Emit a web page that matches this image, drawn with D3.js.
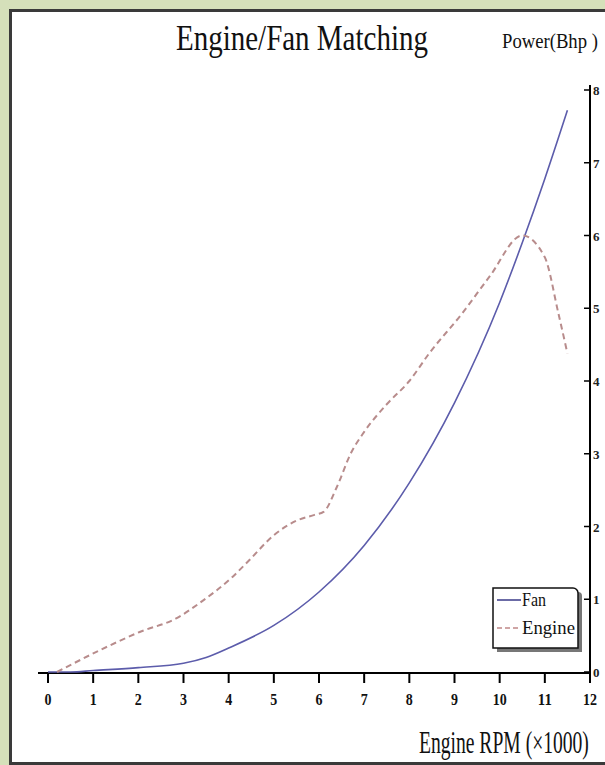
<!DOCTYPE html>
<html><head><meta charset="utf-8">
<script src="https://cdn.jsdelivr.net/npm/d3@7"></script>
<style>html,body{margin:0;padding:0;background:#d5e0ba;overflow:hidden}</style>
</head><body>
<svg id="c" width="605" height="765"></svg>
<script>
// ---- data ----
const xTicks = [0,1,2,3,4,5,6,7,8,9,10,11,12];
const yTicks = [0,1,2,3,4,5,6,7,8];
const fanRpm   = [0, 0.5, 1, 2, 3, 3.5, 4, 5, 6, 7, 8, 9, 10, 10.5, 11, 11.5];
const fanPower = [0, 0, 0.02, 0.06, 0.12, 0.2, 0.33, 0.64, 1.1, 1.74, 2.6, 3.7, 5.08, 5.9, 6.78, 7.72];
const engineRpm   = [0.2, 1.15, 2.03, 2.85, 3.36, 4.09, 4.46, 5.0, 5.5, 5.9, 6.1, 6.4, 6.7, 7.0, 7.5, 8.0, 8.44, 9.17, 9.77, 10.5, 11.0, 11.3, 11.5];
const enginePower = [0, 0.30, 0.55, 0.74, 0.95, 1.31, 1.54, 1.88, 2.08, 2.16, 2.2, 2.55, 3.0, 3.3, 3.68, 4.0, 4.38, 4.93, 5.43, 6.0, 5.7, 4.93, 4.38];
const seriesNames = ["Fan", "Engine"];
const titleText = "Engine/Fan Matching";
const yTitle = "Power(Bhp )";
const xTitle = "Engine RPM (\u00d71000)";

const svg = d3.select("#c");
const serif = "'Liberation Serif','DejaVu Serif',serif";

// condensed text helper: real text, squeezed horizontally to a target width
function condensed(parent, str, x0, y0, size, width, opts={}) {
  const g = parent.append("g");
  const t = g.append("text").attr("x",0).attr("y",0).attr("font-family",serif)
    .attr("font-size",size).attr("fill",opts.fill||"#111")
    .attr("font-weight",opts.weight||"normal").text(str);
  const len = t.node().getComputedTextLength() || width;
  const sx = width/len;
  const anchorShift = opts.anchor==="middle" ? -width/2 : 0;
  g.attr("transform",`translate(${x0+anchorShift},${y0}) scale(${sx},1)`);
  return g;
}

// panel
svg.append("rect").attr("x",10.5).attr("y",10.5).attr("width",620).attr("height",753)
  .attr("fill","#fff").attr("stroke","#3a3a3a").attr("stroke-width",3);

const x = d3.scaleLinear().domain([0,12]).range([48,590]);
const y = d3.scaleLinear().domain([0,8]).range([672,90]);

// x axis
const gx = svg.append("g").attr("transform","translate(0,673)");
gx.append("line").attr("x1",38).attr("x2",591).attr("stroke","#000").attr("stroke-width",2);
gx.selectAll("line.t").data(xTicks).join("line").attr("class","t")
  .attr("x1",d=>x(d)).attr("x2",d=>x(d)).attr("y1",0).attr("y2",10)
  .attr("stroke","#000").attr("stroke-width",2);
xTicks.forEach(d=>{
  condensed(gx, String(d), x(d), 32, 17, String(d).length*7, {anchor:"middle", weight:"bold"});
});

// y axis (right)
const gy = svg.append("g").attr("transform","translate(590,0)");
gy.append("line").attr("y1",85).attr("y2",683).attr("stroke","#000").attr("stroke-width",2);
gy.selectAll("line.t").data(yTicks).join("line").attr("class","t")
  .attr("x1",-6).attr("x2",0).attr("y1",d=>y(d)).attr("y2",d=>y(d))
  .attr("stroke","#000").attr("stroke-width",1.5);
gy.selectAll("text").data(yTicks).join("text")
  .attr("x",3).attr("y",d=>y(d)+5).attr("font-family",serif).attr("font-size",13)
  .attr("font-weight","bold").attr("fill","#222").text(d=>d);

// lines
const fanData = fanRpm.map((r,i)=>[r,fanPower[i]]);
const engData = engineRpm.map((r,i)=>[r,enginePower[i]]);
const line = d3.line().x(d=>x(d[0])).y(d=>y(d[1])).curve(d3.curveMonotoneX);
svg.append("path").attr("d",line(fanData)).attr("fill","none")
  .attr("stroke","#5c5cab").attr("stroke-width",1.6);
svg.append("path").attr("d",line(engData)).attr("fill","none")
  .attr("stroke","#b88c8c").attr("stroke-width",2).attr("stroke-dasharray","6,4");

// titles
condensed(svg, titleText, 176, 50, 35, 252);
condensed(svg, yTitle, 502, 48, 22, 96);
condensed(svg, xTitle, 419, 753, 32, 170);

// legend
const lg = svg.append("g");
lg.append("path").attr("d","M497,592 H578 a4,4 0 0 1 4,4 V652 H497 Z").attr("fill","#777");
lg.append("path").attr("d","M493,588 H573 a5,5 0 0 1 5,5 V648 H493 Z")
  .attr("fill","#fff").attr("stroke","#111").attr("stroke-width",1.5);
const legColors = ["#3a3a88","#c08888"];
const legDash = [null,"5,3"];
seriesNames.forEach((n,i)=>{
  const yy = 600 + i*28;
  lg.append("line").attr("x1",497).attr("x2",521).attr("y1",yy).attr("y2",yy)
    .attr("stroke",legColors[i]).attr("stroke-width",1.5).attr("stroke-dasharray",legDash[i]);
  condensed(lg, n, 522, yy+6, 19, i===0?24:53);
});
</script>
</body></html>
